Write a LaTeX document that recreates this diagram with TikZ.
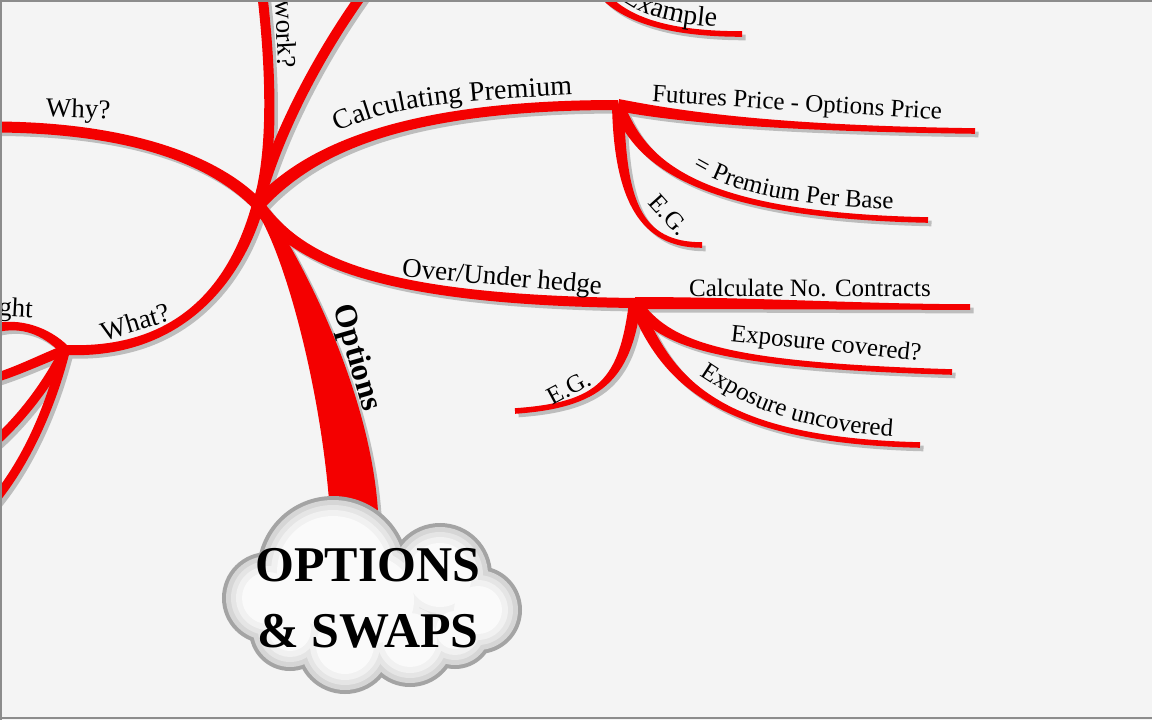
\documentclass[tikz,border=0pt]{standalone}
\usepackage{fontspec}
\setmainfont{Liberation Serif}
\usetikzlibrary{calc,decorations.text}
\definecolor{bg}{HTML}{F4F4F4}
\definecolor{shad}{HTML}{BDBDBD}
\definecolor{br}{HTML}{F40000}
\definecolor{cedge}{HTML}{A4A4A4}
\definecolor{frame}{HTML}{8C8C8C}
\newcommand\fsL{\fontsize{27}{27}\selectfont}
\newcommand\fsM{\fontsize{28}{28}\selectfont}
\newcommand\fsS{\fontsize{25}{25}\selectfont}
\newcommand\fsE{\fontsize{28}{28}\selectfont}
% tapered branch: #1 style, #2 start, #3 ctrl1, #4 ctrl2, #5 end, #6 half width start, #7 half width end
\newcommand\mb[7]{%
  \path ($(#2)!#6!90:(#3)$) coordinate (sL) ($(#2)!#6!-90:(#3)$) coordinate (sR)
        ($(#5)!#7!-90:(#4)$) coordinate (eL) ($(#5)!#7!90:(#4)$) coordinate (eR);
  \path ($(#3)+(sL)-(#2)$) coordinate (cA) ($(#3)+(sR)-(#2)$) coordinate (cB)
        ($(#4)+(eL)-(#5)$) coordinate (cC) ($(#4)+(eR)-(#5)$) coordinate (cD);
  \fill[#1] (sL) .. controls (cA) and (cC) .. (eL) -- (eR) .. controls (cD) and (cB) .. (sR) -- cycle;
}
\newcommand\allbranches[1]{%
  \mb{#1}{H}{215,160}{130,128}{eWhy}{6pt}{5.5pt}
  \mb{#1}{H}{275,150}{270,60}{eWork}{5.5pt}{5pt}
  \mb{#1}{H}{275,140}{315,60}{eUp}{5.5pt}{5pt}
  \mb{#1}{H}{305,155}{390,105}{P}{6.5pt}{5pt}
  \mb{#1}{H}{300,265}{390,300}{U}{6.5pt}{5pt}
  \mb{#1}{H}{240,270}{190,355}{Wn}{6pt}{5pt}
  \mb{#1}{H}{285,240}{345,380}{T}{5pt}{24pt}
  \mb{#1}{P}{670,115}{760,128}{eFut}{6pt}{2.8pt}
  \mb{#1}{P}{640,160}{690,215}{ePpb}{6pt}{2.8pt}
  \mb{#1}{P}{620,200}{640,245}{eEgA}{6pt}{2.8pt}
  \mb{#1}{U}{750,303}{870,307}{eCnc}{6pt}{2.8pt}
  \mb{#1}{U}{665,345}{720,365}{eExc}{6pt}{2.8pt}
  \mb{#1}{U}{665,375}{710,440}{eExu}{6pt}{2.8pt}
  \mb{#1}{U}{625,380}{600,405}{eEgB}{6pt}{2.8pt}
  \mb{#1}{Wn}{45,330}{20,322}{eWa}{5pt}{4.5pt}
  \mb{#1}{Wn}{40,360}{20,370}{eWb}{5pt}{4.5pt}
  \mb{#1}{Wn}{50,380}{25,415}{eWc}{5pt}{4.5pt}
  \mb{#1}{Wn}{55,390}{35,450}{eWd}{5pt}{4.5pt}
  \mb{#1}{sEx}{620,20}{670,34}{eEx}{4pt}{2.8pt}
}
\begin{document}
\begin{tikzpicture}[x=1pt,y=-1pt,
  lbl/.style={inner sep=0pt,font=\fsL},
  lbs/.style={inner sep=0pt,font=\fsS}]
\useasboundingbox (0,0) rectangle (1152,720);
\fill[bg] (0,0) rectangle (1152,720);
\clip (0,0) rectangle (1152,720);
% hubs and branch ends
\coordinate (H) at (258,205);
\coordinate (P) at (618,105);
\coordinate (U) at (635,303);
\coordinate (Wn) at (65,350);
\coordinate (T) at (354,512);
\coordinate (eWhy) at (-3,127);
\coordinate (eWork) at (262,-8);
\coordinate (eUp) at (364,-8);
\coordinate (eFut) at (975,131);
\coordinate (ePpb) at (928,220);
\coordinate (eEgA) at (702,245);
\coordinate (eCnc) at (970,307);
\coordinate (eExc) at (952,372);
\coordinate (eExu) at (920,445);
\coordinate (eEgB) at (515,411);
\coordinate (eWa) at (-5,328);
\coordinate (eWb) at (-5,378);
\coordinate (eWc) at (-5,442);
\coordinate (eWd) at (-5,500);
\coordinate (sEx) at (598,-12);
\coordinate (eEx) at (742,34);
% shadows then branches
\begin{scope}[transform canvas={shift={(3.5pt,-3.5pt)}}]
  \allbranches{shad}
\end{scope}
\allbranches{br}
% cloud
\def\cloudlist{333/572/72, 440/575/48, 478/610/40, 455/630/35, 410/640/43, 345/645/45, 290/630/37, 268/598/42, 370/600/60}
\foreach \cx/\cy/\r in \cloudlist {\draw[cedge,line width=8pt] (\cx,\cy) circle ({\r*1pt});}
\foreach \cx/\cy/\r in \cloudlist {\fill[gray!32] (\cx,\cy) circle ({\r*1pt});}
\foreach \cx/\cy/\r in \cloudlist {\fill[gray!20] (\cx,\cy) circle ({(\r-5)*1pt});}
\foreach \cx/\cy/\r in \cloudlist {\fill[gray!11] (\cx,\cy) circle ({(\r-10)*1pt});}
\foreach \cx/\cy/\r in \cloudlist {\fill[gray!4] (\cx,\cy) circle ({(\r-16)*1pt});}
\node[inner sep=0pt,align=center,font=\bfseries\fontsize{50}{66}\selectfont] (root) at (368,598) {OPTIONS\\\& SWAPS};
% labels
\node[lbl,rotate=-2] (why) at (78,111) {Why?};
\node[lbl,rotate=-87] (work) at (286,34) {work?};
\node[lbl,rotate=17] (what) at (135,322) {What?};
\node[lbl,rotate=-3,anchor=east] (ght) at (33,311) {ght};
\node[inner sep=0pt,font=\bfseries\fontsize{32}{32}\selectfont,rotate=-74] (opt) at (356,358) {Options};
\path[decorate,decoration={text along path,text={|\fsM|Calculating Premium},text align={left}}]
  (338,132) .. controls (383,110) and (433,100) .. (598,94);
\node[lbs,rotate=-3.5] (fut) at (797,105) {Futures Price - Options Price};
\path[decorate,decoration={text along path,text={|\fsS|= Premium Per Base},text align={left}}]
  (693,168) .. controls (730,190) and (780,207) .. (915,210);
\node[lbs,rotate=-48] (egA) at (669,215) {E.G.};
\node[lbl,rotate=-5] (ouh) at (502,279) {Over/Under hedge};
\node[lbs] (cnc) at (810,288) {Calculate No. Contracts};
\node[lbs,rotate=-6] (expc) at (826,345) {Exposure covered?};
\path[decorate,decoration={text along path,text={|\fsS|Exposure uncovered},text align={left}}]
  (700,375) .. controls (742,403) and (792,433) .. (917,438);
\node[lbs,rotate=28] (egB) at (569,388) {E.G.};
\path[decorate,decoration={text along path,text={|\fsE|Example},text align={left}}]
  (622,0) .. controls (645,17) and (680,27) .. (745,28);
% frame
\draw[frame,line width=2pt] (0,1) -- (1152,1);
\draw[frame,line width=2pt] (1,0) -- (1,720);
\draw[frame,line width=2pt] (0,718) -- (1152,718);
\end{tikzpicture}
\end{document}
